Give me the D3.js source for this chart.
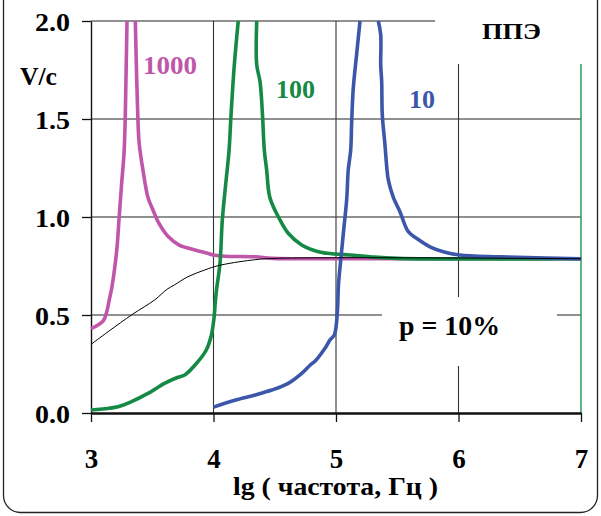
<!DOCTYPE html>
<html>
<head>
<meta charset="utf-8">
<script src="https://cdn.jsdelivr.net/npm/d3@7"></script>
<style>
  body { margin: 0; background: #fff; }
</style>
</head>
<body>
<svg id="chart" width="601" height="516"></svg>
<script>
// значения: [lg f, V/c], null = уход за верх шкалы
var xTicks = [3, 4, 5, 6, 7];
var yTicks = [0, 0.5, 1.0, 1.5, 2.0];

var curve1000 = [
    [3.00, 0.43], [3.10, 0.47], [3.13, 0.52], [3.15, 0.58], [3.17, 0.64], [3.21, 0.83],
    [3.23, 1.00], [3.25, 1.17], [3.27, 1.33], [3.28, 1.52], [3.285, 1.69], [3.29, 1.86],
    [3.294, 2.0], [3.33, null], [3.362, 2.0], [3.37, 1.78], [3.378, 1.60], [3.39, 1.40],
    [3.40, 1.34], [3.424, 1.24], [3.465, 1.10], [3.506, 1.036], [3.547, 0.976], [3.63, 0.90],
    [3.72, 0.857], [3.85, 0.832], [3.95, 0.815], [4.0, 0.806], [4.09, 0.80], [4.34, 0.797],
    [4.48, 0.789], [5.0, 0.787], [7.0, 0.787]
];

var curve100 = [
    [3.0, 0.015], [3.22, 0.032], [3.33, 0.058], [3.465, 0.10], [3.60, 0.151], [3.70, 0.18],
    [3.765, 0.194], [3.873, 0.262], [3.94, 0.32], [3.98, 0.39], [4.004, 0.483], [4.015, 0.568],
    [4.025, 0.63], [4.053, 0.764], [4.072, 0.985], [4.10, 1.17], [4.127, 1.34], [4.143, 1.52],
    [4.17, 1.776], [4.202, 2.0], [4.28, null], [4.353, 2.0], [4.353, 1.776], [4.38, 1.69],
    [4.40, 1.52], [4.415, 1.34], [4.434, 1.24], [4.46, 1.10], [4.543, 0.985], [4.61, 0.917],
    [4.72, 0.857], [4.856, 0.823], [4.99, 0.811], [5.114, 0.806], [5.278, 0.797], [5.50, 0.789],
    [7.0, 0.787]
];

var curve10 = [
    [4.0, 0.03], [4.18, 0.066], [4.34, 0.092], [4.475, 0.117], [4.61, 0.151], [4.72, 0.202],
    [4.79, 0.245], [4.83, 0.265], [4.91, 0.33], [4.95, 0.372], [4.986, 0.398], [5.005, 0.466],
    [5.014, 0.551], [5.02, 0.653], [5.047, 0.832], [5.06, 0.917], [5.087, 1.087], [5.10, 1.24],
    [5.12, 1.342], [5.128, 1.486], [5.141, 1.657], [5.168, 1.827], [5.196, 2.0], [5.27, null],
    [5.345, 2.0], [5.365, 1.93], [5.365, 1.776], [5.373, 1.69], [5.378, 1.52], [5.40, 1.367],
    [5.414, 1.257], [5.427, 1.189], [5.468, 1.10], [5.522, 1.027], [5.59, 0.925], [5.659, 0.891],
    [5.767, 0.848], [5.876, 0.823], [6.01, 0.806], [6.34, 0.797], [7.0, 0.787]
];

// тонкая чёрная кривая
var curveLimit = [
    [3.0, 0.35], [3.14, 0.415], [3.34, 0.504], [3.52, 0.577], [3.62, 0.631], [3.68, 0.653],
    [3.79, 0.695], [3.93, 0.73], [4.04, 0.752], [4.31, 0.78], [4.50, 0.789], [7.0, 0.787]
];

var seriesNames = ["1000", "100", "10"];
var seriesColors = ["#c056aa", "#158a45", "#3c57aa"];

var FONT = "'Liberation Serif', 'DejaVu Serif', serif";

var svg = d3.select("#chart");

var x = d3.scaleLinear().domain([3, 7]).range([91, 581]);
var y = d3.scaleLinear().domain([0, 2]).range([413, 21]);

// рамка
svg.append("rect")
    .attr("x", 3.5).attr("y", -30)
    .attr("width", 594).attr("height", 542.5)
    .attr("rx", 17)
    .attr("fill", "none")
    .attr("stroke", "#222")
    .attr("stroke-width", 1.3);

var grid = svg.append("g");

// горизонтальная сетка
yTicks.filter(function (d) { return d > 0; }).forEach(function (d) {
    grid.append("line")
        .attr("x1", x(3)).attr("x2", x(7))
        .attr("y1", y(d)).attr("y2", y(d))
        .attr("stroke", "#222").attr("stroke-width", 1.1);
});

// вертикальная сетка
[4, 5, 6].forEach(function (d) {
    grid.append("line")
        .attr("x1", x(d)).attr("x2", x(d))
        .attr("y1", y(0)).attr("y2", y(2))
        .attr("stroke", "#333").attr("stroke-width", 1.1);
});

// зелёная правая граница
svg.append("line")
    .attr("x1", x(7)).attr("x2", x(7))
    .attr("y1", y(0)).attr("y2", y(2))
    .attr("stroke", "#2a9a55").attr("stroke-width", 1.5);

// белые подложки под надписями
svg.append("rect")
    .attr("x", 435).attr("y", 0).attr("width", 160).attr("height", 64)
    .attr("fill", "#fff");
svg.append("rect")
    .attr("x", 382).attr("y", 297).attr("width", 175).attr("height", 69)
    .attr("fill", "#fff");

// оси
var yAxis = svg.append("g")
    .attr("transform", "translate(" + x(3) + ",0)")
    .call(d3.axisLeft(y).tickValues(yTicks).tickFormat(d3.format(".1f")).tickSize(9).tickSizeOuter(0).tickPadding(12));
yAxis.select(".domain").attr("stroke", "#111").attr("stroke-width", 1.4);
yAxis.selectAll(".tick line").attr("stroke", "#111").attr("stroke-width", 1.3);
yAxis.selectAll(".tick text")
    .attr("fill", "#000")
    .attr("dy", "0.36em")
    .attr("textLength", 35).attr("lengthAdjust", "spacingAndGlyphs")
    .style("font-family", FONT).style("font-weight", "bold").style("font-size", "26px");

var xAxis = svg.append("g")
    .attr("transform", "translate(0," + y(0) + ")")
    .call(d3.axisBottom(x).tickValues(xTicks).tickFormat(d3.format("d")).tickSize(9).tickSizeOuter(0).tickPadding(35));
xAxis.select(".domain").attr("stroke", "#111").attr("stroke-width", 2.6);
xAxis.selectAll(".tick line").attr("stroke", "#111").attr("stroke-width", 1.3);
xAxis.selectAll(".tick text")
    .attr("fill", "#000")
    .attr("dy", "0.4em")
    .style("font-family", FONT).style("font-weight", "bold").style("font-size", "27px");

var line = d3.line()
    .defined(function (d) { return d[1] !== null; })
    .x(function (d) { return x(d[0]); })
    .y(function (d) { return y(d[1]); })
    .curve(d3.curveCatmullRom.alpha(0.5));

[curve1000, curve100, curve10].forEach(function (c, i) {
    svg.append("path")
        .datum(c)
        .attr("d", line)
        .attr("fill", "none")
        .attr("stroke", seriesColors[i])
        .attr("stroke-width", 3.6)
        .attr("stroke-linejoin", "round");
});

svg.append("path")
    .datum(curveLimit)
    .attr("d", line)
    .attr("fill", "none")
    .attr("stroke", "#000")
    .attr("stroke-width", 1);

function label(px, py, size, txt, color, anchor, len) {
    var t = svg.append("text")
        .attr("x", px).attr("y", py)
        .attr("text-anchor", anchor || "start")
        .attr("fill", color || "#000")
        .style("font-family", FONT)
        .style("font-weight", "bold")
        .style("font-size", size + "px")
        .text(txt);
    if (len) t.attr("textLength", len).attr("lengthAdjust", "spacingAndGlyphs");
    return t;
}

// подписи кривых
var labelPos = [[143, 74], [276, 98], [409, 108]];
var labelLen = [54, 39, 26];
seriesNames.forEach(function (n, i) {
    label(labelPos[i][0], labelPos[i][1], 26, n, seriesColors[i], "start", labelLen[i]);
});

label(20, 85, 26, "V/c", "#000", "start", 37);
label(482, 39, 23, "ППЭ", "#000", "start", 59);
label(399, 335, 27, "p = 10%", "#000", "start", 101);
label(233, 495, 25, "lg ( частота, Гц )", "#000", "start", 205);
</script>
</body>
</html>
